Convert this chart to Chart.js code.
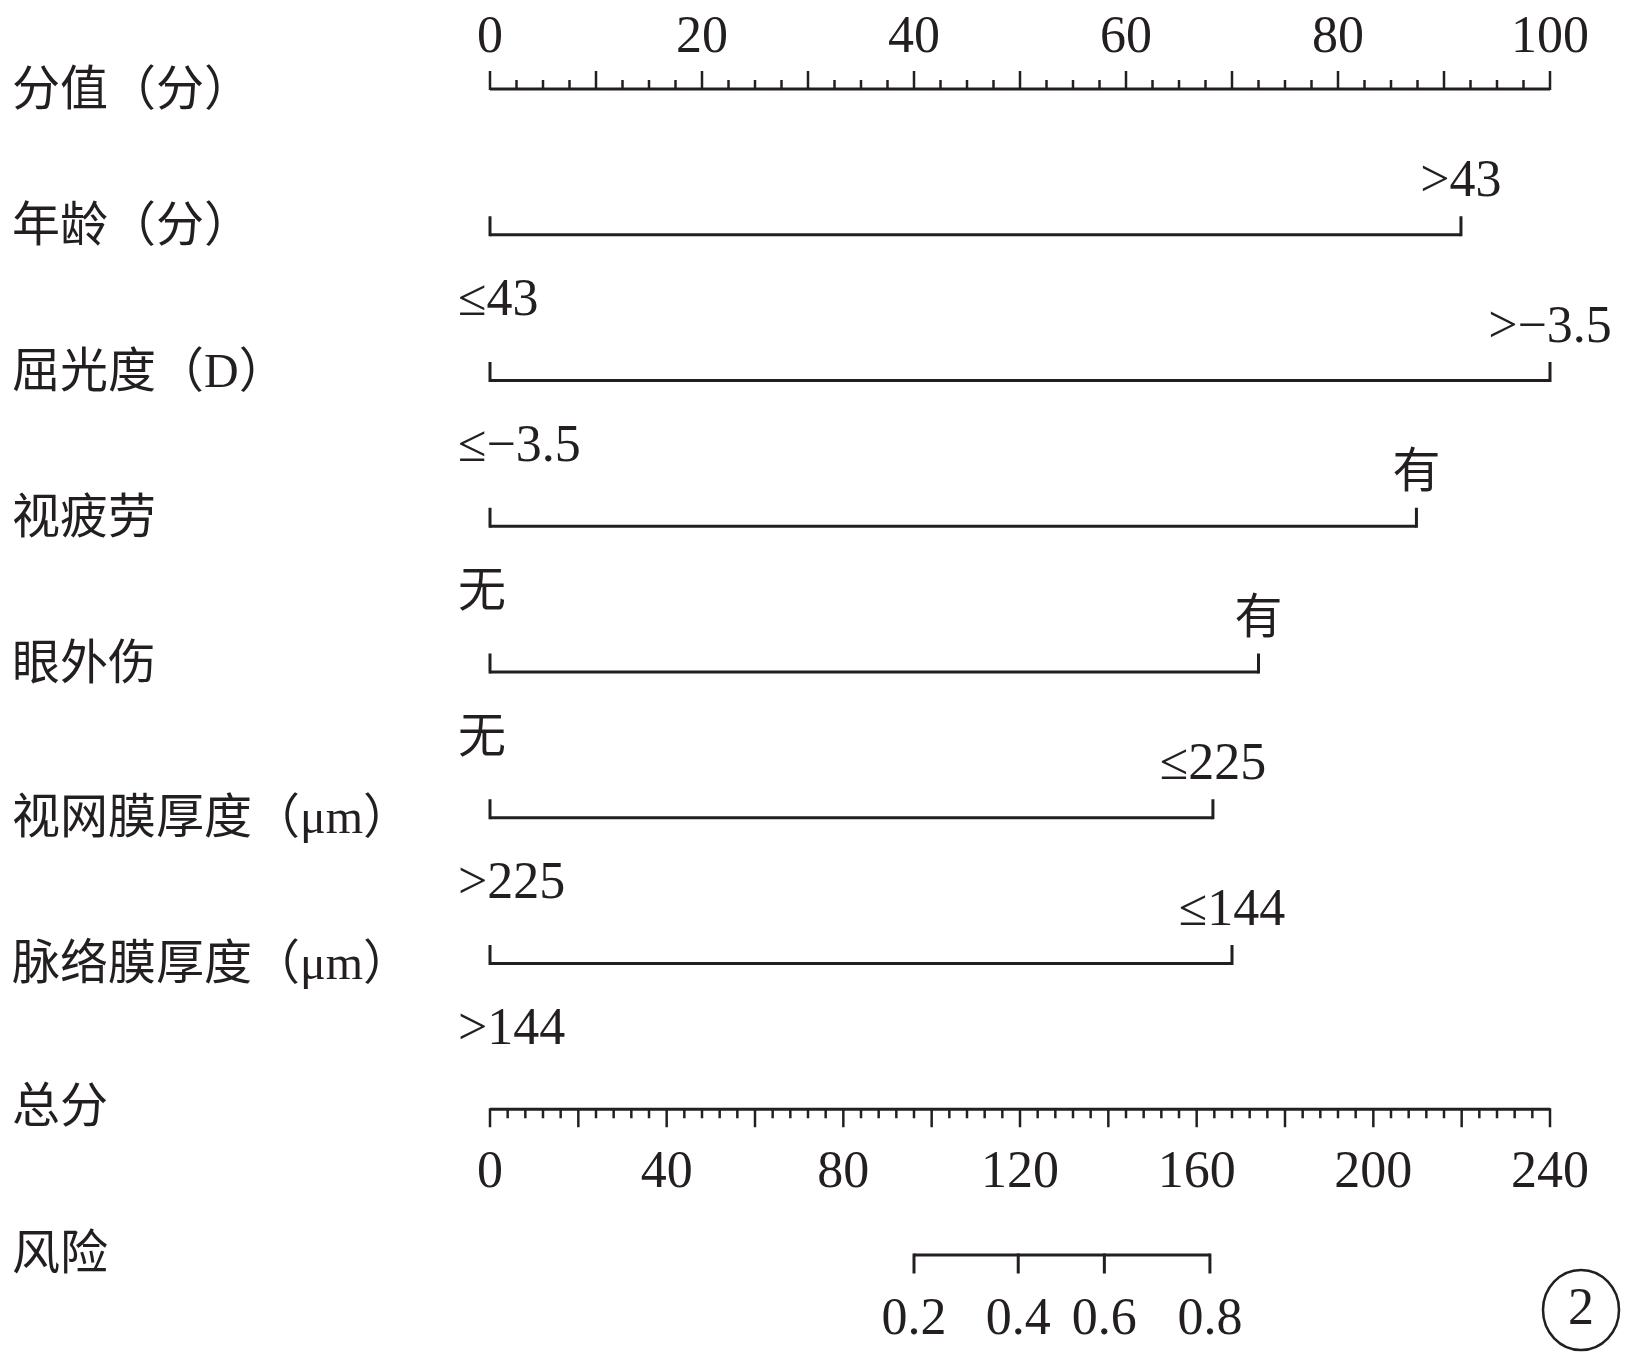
<!DOCTYPE html>
<html>
<head>
<meta charset="utf-8">
<script src="https://cdn.jsdelivr.net/npm/chart.js@4/dist/chart.umd.min.js"></script>
<style>
  body { margin: 0; background: #fff; }
  canvas { display: block; }
</style>
</head>
<body>
<canvas id="nomoChart" width="1634" height="1358"></canvas>
<script>
// row names, top to bottom
const rowNames = ['分值（分）', '年龄（分）', '屈光度（D）', '视疲劳', '眼外伤',
                  '视网膜厚度（μm）', '脉络膜厚度（μm）', '总分', '风险'];

// predictor rows (rows 1..6)
const lowLabels = ['≤43', '≤−3.5', '无', '无', '>225', '>144'];
const highLabels = ['>43', '>−3.5', '有', '有', '≤225', '≤144'];
const highPoints = [91.6, 100, 87.4, 72.5, 68.2, 70.0];

// points axis (0-100)
const pointTickLabels = [0, 20, 40, 60, 80, 100];
// total points axis (0-240)
const totalTickLabels = [0, 40, 80, 120, 160, 200, 240];
// risk axis, placed on total points
const riskLabels = ['0.2', '0.4', '0.6', '0.8'];
const riskTotalPoints = [96.0, 119.6, 139.1, 163.0];

const ink = '#231f20';
const cjkFont = '48px "Liberation Serif", "Noto Sans CJK SC"';
const numFont = '52px "Liberation Serif", "Noto Sans CJK SC"';
// small vertical nudges for row names (px)
const labelShift = [3, -6, -6, -6, -6, 3, 3, 0, 1];

// one line dataset per predictor
const datasets = highPoints.map((v, i) => ({
    label: rowNames[i + 1],
    data: [{ x: 0, y: i + 1 }, { x: v, y: i + 1 }],
    borderColor: ink,
    borderWidth: 3,
    pointRadius: 0,
    tension: 0
}));

function vtick(ctx, px, py, len) {
    ctx.beginPath();
    ctx.moveTo(px, py);
    ctx.lineTo(px, py + len);
    ctx.stroke();
}

// draws axes, ticks and texts
const nomogram = {
    id: 'nomogram',
    afterDraw(chart) {
        const ctx = chart.ctx;
        const x = chart.scales.x, xt = chart.scales.xt, y = chart.scales.y;
        ctx.save();
        ctx.strokeStyle = ink;
        ctx.fillStyle = ink;
        ctx.lineWidth = 3;

        // row names
        ctx.font = cjkFont;
        ctx.textAlign = 'left';
        ctx.textBaseline = 'middle';
        rowNames.forEach((name, i) => {
            ctx.fillText(name, 12, y.getPixelForValue(i) + labelShift[i]);
        });

        // points axis
        const y0 = y.getPixelForValue(0);
        ctx.beginPath();
        ctx.moveTo(x.getPixelForValue(0), y0);
        ctx.lineTo(x.getPixelForValue(100), y0);
        ctx.stroke();
        ctx.lineWidth = 2.5;
        for (let i = 0; i <= 40; i++) {
            vtick(ctx, x.getPixelForValue(i * 2.5), y0 + 1, i % 4 === 0 ? -19 : -10);
        }
        ctx.font = numFont;
        ctx.textAlign = 'center';
        ctx.textBaseline = 'alphabetic';
        pointTickLabels.forEach(v => {
            ctx.fillText(String(v), x.getPixelForValue(v), y0 - 37);
        });

        // predictor end ticks and labels
        ctx.lineWidth = 3;
        highPoints.forEach((v, i) => {
            const py = y.getPixelForValue(i + 1);
            const x0 = x.getPixelForValue(0), x1 = x.getPixelForValue(v);
            vtick(ctx, x0, py + 1.5, -20);
            vtick(ctx, x1, py + 1.5, -20);
            ctx.font = /[\u4e00-\u9fff]/.test(highLabels[i]) ? cjkFont : numFont;
            ctx.textAlign = 'center';
            ctx.fillText(highLabels[i], x1, py - 39);
            ctx.font = /[\u4e00-\u9fff]/.test(lowLabels[i]) ? cjkFont : numFont;
            ctx.textAlign = 'left';
            ctx.fillText(lowLabels[i], x0 - 32, py + 80);
        });

        // total points axis
        const yt = y.getPixelForValue(7);
        ctx.beginPath();
        ctx.moveTo(xt.getPixelForValue(0), yt);
        ctx.lineTo(xt.getPixelForValue(240), yt);
        ctx.stroke();
        ctx.lineWidth = 2.5;
        for (let i = 0; i <= 60; i++) {
            vtick(ctx, xt.getPixelForValue(i * 4), yt - 1, i % 5 === 0 ? 19 : 10);
        }
        ctx.font = numFont;
        ctx.textAlign = 'center';
        totalTickLabels.forEach(v => {
            ctx.fillText(String(v), xt.getPixelForValue(v), yt + 78);
        });

        // risk axis
        ctx.lineWidth = 3;
        const yr = y.getPixelForValue(8);
        ctx.beginPath();
        ctx.moveTo(xt.getPixelForValue(riskTotalPoints[0]), yr);
        ctx.lineTo(xt.getPixelForValue(riskTotalPoints[riskTotalPoints.length - 1]), yr);
        ctx.stroke();
        riskTotalPoints.forEach((p, i) => {
            const px = xt.getPixelForValue(p);
            vtick(ctx, px, yr - 1.5, 20);
            ctx.fillText(riskLabels[i], px, yr + 79);
        });

        // panel mark
        ctx.lineWidth = 2.5;
        ctx.beginPath();
        ctx.ellipse(1581, 1310, 38, 40, 0, 0, Math.PI * 2);
        ctx.stroke();
        ctx.textBaseline = 'middle';
        ctx.fillText('2', 1581, 1310);

        ctx.restore();
    }
};

const ctx = document.getElementById('nomoChart').getContext('2d');
const chart = new Chart(ctx, {
    type: 'line',
    data: { datasets: datasets },
    options: {
        responsive: false,
        animation: false,
        layout: { padding: { left: 490, right: 84, top: 89, bottom: 103 } },
        scales: {
            x: { type: 'linear', min: 0, max: 100, display: false },
            xt: { type: 'linear', axis: 'x', min: 0, max: 240, display: false },
            y: { type: 'linear', min: 0, max: 8, reverse: true, display: false }
        },
        plugins: {
            legend: { display: false },
            tooltip: { enabled: false }
        }
    },
    plugins: [nomogram]
});
</script>
</body>
</html>
